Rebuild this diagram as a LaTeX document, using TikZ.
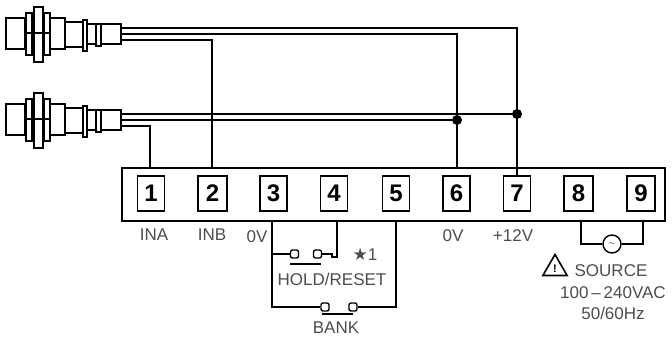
\documentclass[tikz,border=0pt]{standalone}
\usepackage{fontspec}
\setmainfont{Liberation Sans}
\usetikzlibrary{shapes.geometric}

\tikzset{
  wire/.style={line width=1.4pt},
  terminal/.style={draw,line width=1.5pt,minimum width=27pt,minimum height=35pt,inner sep=0pt,font=\fontsize{24}{24}\selectfont\bfseries},
  caption/.style={inner sep=0pt,text=black!70,font=\fontsize{17}{17}\selectfont},
  contact/.style={draw,fill=white,line width=1.4pt,rounded corners=2pt,minimum size=8pt,inner sep=0pt},
  junction/.style={circle,fill=black,minimum size=10pt,inner sep=0pt},
  pics/sensor/.style={code={
    \draw[line width=2.8pt] (6,-15) rectangle (25,16);
    \draw[line width=2.8pt] (50,-15) rectangle (65,16);
    \draw[line width=1.5pt] (65,-11) rectangle (83,14);
    \draw[line width=1.5pt] (26,-20) rectangle (32,22);
    \draw[line width=1.5pt] (44,-20) rectangle (50,22);
    \draw[line width=1.5pt] (34,-26) rectangle (43,29);
    \draw[line width=1.2pt] (26,0) -- (50,0);
    \draw[line width=1.5pt] (83,-13) rectangle (87,18);
    \draw[line width=1.5pt] (87,-9) rectangle (96,11);
    \draw[line width=1.5pt] (96,-9) rectangle (101,13);
    \draw[line width=1.5pt] (101,-9) rectangle (121,11);
    \coordinate (-a) at (121,-5);
    \coordinate (-b) at (121,1);
    \coordinate (-c) at (121,7);
  }}
}

\begin{document}
\begin{tikzpicture}[x=1pt,y=-1pt]
  \useasboundingbox (0,0) rectangle (672,338);

  \pic (s1) at (0,33) {sensor};
  \pic (s2) at (0,119) {sensor};

  \node[draw,line width=1.5pt,minimum width=543pt,minimum height=53pt,inner sep=0pt] (block) at (393.5,194.5) {};

  \node[terminal] (t1) at (151,193.5) {1};
  \node[terminal,minimum width=29pt] (t2) at (212.5,193.5) {2};
  \node[terminal] (t3) at (273.5,193.5) {3};
  \node[terminal] (t4) at (334,193.5) {4};
  \node[terminal] (t5) at (396,193.5) {5};
  \node[terminal] (t6) at (456.5,193.5) {6};
  \node[terminal] (t7) at (517,193.5) {7};
  \node[terminal,minimum width=29pt] (t8) at (578.5,193.5) {8};
  \node[terminal,minimum width=28pt] (t9) at (641,193.5) {9};

  \node[junction] (j6) at (457,120) {};
  \node[junction] (j7) at (517,114) {};

  \coordinate (in1) at (150,168);
  \coordinate (in2) at (212,168);
  \coordinate (in6) at (457,168);
  \coordinate (out3) at (272,221);
  \coordinate (out4) at (337,221);
  \coordinate (out5) at (396,221);
  \coordinate (out8) at (581,221);
  \coordinate (out9) at (643,221);

  \node[contact] (h1) at (294.5,254) {};
  \node[contact] (h2) at (317.5,254) {};
  \node[contact] (b1) at (325,307) {};
  \node[contact] (b2) at (353,307) {};
  \coordinate (tap3) at (272,254);
  \coordinate (tap4) at (332,254);
  \coordinate (bar1) at (290,264);
  \coordinate (bar2) at (321,264);
  \coordinate (bar3) at (322,314);
  \coordinate (bar4) at (353,314);

  \node[draw,circle,fill=white,line width=1.4pt,minimum size=18pt,inner sep=0pt,font=\scriptsize] (ac) at (612,244) {$\sim$};

  \draw[wire] (s1-a) -| (t7.north);
  \draw[wire] (s1-b) -| (in6);
  \draw[wire] (s1-c) -| (in2);
  \draw[wire] (s2-a) -- (j7);
  \draw[wire] (s2-b) -- (j6);
  \draw[wire] (s2-c) -| (in1);
  \draw[wire] (out3) |- (b1.west);
  \draw[wire] (tap3) -- (h1.west);
  \draw[wire] (h2.east) -- (tap4) -- ++(0,3) -| (out4);
  \draw[wire] (b2.east) -| (out5);
  \draw[wire] (bar1) -- (bar2);
  \draw[wire] (bar3) -- (bar4);
  \draw[wire] (out8) |- (ac.west);
  \draw[wire] (out9) |- (ac.east);

  \node[caption] (ina) at (154,235) {INA};
  \node[caption] (inb) at (212,235) {INB};
  \node[caption] (zero3) at (257,237) {0V};
  \node[caption] (zero6) at (453,236) {0V};
  \node[caption] (plus) at (513,236) {+12V};
  \node[caption] (star) at (365,254) {\fontspec{DejaVu Sans}\fontsize{17}{17}\selectfont ★\fontspec{Liberation Sans}\fontsize{17}{17}\selectfont 1};
  \node[caption] (hold) at (332,279) {HOLD/RESET};
  \node[caption] (bank) at (336,328) {BANK};
  \node[draw,regular polygon,regular polygon sides=3,line width=1.6pt,minimum size=28pt,inner sep=0pt,font=\fontsize{11}{11}\selectfont\bfseries] (warn) at (555,268.5) {!};
  \node[caption] (source) at (611,271) {SOURCE};
  \node[caption] (volt) at (613,293) {100\,–\,240VAC};
  \node[caption] (freq) at (613,313) {50/60Hz};
\end{tikzpicture}
\end{document}
